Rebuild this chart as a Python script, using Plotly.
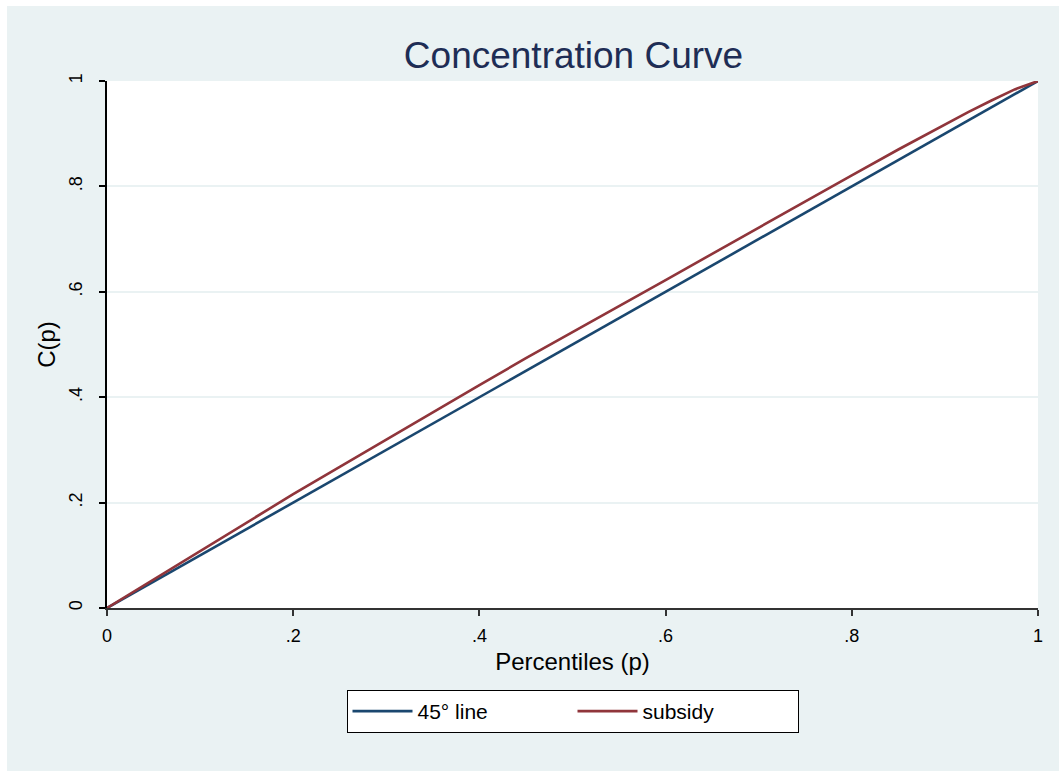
import plotly.graph_objects as go

# ---- data ----
p = [0.0, 0.05, 0.10, 0.15, 0.20, 0.25, 0.30, 0.35, 0.40, 0.45, 0.50,
     0.55, 0.60, 0.65, 0.70, 0.75, 0.80, 0.85, 0.90, 0.925, 0.95, 0.975, 1.0]
line45 = [0.0, 0.05, 0.10, 0.15, 0.20, 0.25, 0.30, 0.35, 0.40, 0.45, 0.50,
          0.55, 0.60, 0.65, 0.70, 0.75, 0.80, 0.85, 0.90, 0.925, 0.95, 0.975, 1.0]
subsidy = [0.0, 0.054, 0.108, 0.162, 0.216, 0.268, 0.320, 0.371, 0.423, 0.474, 0.523,
           0.572, 0.622, 0.672, 0.722, 0.771, 0.821, 0.870, 0.918, 0.941, 0.963, 0.984, 1.0]

tick_vals = [0, 0.2, 0.4, 0.6, 0.8, 1]
tick_text = ["0", ".2", ".4", ".6", ".8", "1"]

W, H = 1059, 771
L, R, T, B = 107, 21, 81, 163
pw, ph = W - L - R, H - T - B

def px_x(px):
    return (px - L) / pw

def px_y(py):
    return (H - B - py) / ph

BG = "#EAF2F3"
FONT = "Liberation Sans, Arial, sans-serif"

fig = go.Figure()
fig.add_trace(go.Scatter(x=p, y=line45, mode="lines", name="45° line",
                         line=dict(color="#1A476F", width=2.6)))
fig.add_trace(go.Scatter(x=p, y=subsidy, mode="lines", name="subsidy",
                         line=dict(color="#90353B", width=2.6)))

fig.update_layout(
    width=W, height=H,
    margin=dict(l=L, r=R, t=T, b=B, pad=0),
    paper_bgcolor=BG,
    plot_bgcolor="white",
    font=dict(family=FONT, color="#000000"),
    title=dict(text="Concentration Curve", x=px_x(573.5), xref="paper", xanchor="center",
               y=1 - 55 / H, yref="container", yanchor="middle",
               font=dict(size=37, color="#1E2D55", family=FONT)),
    showlegend=True,
    legend=dict(orientation="h", x=0.5, xanchor="center", y=px_y(690), yanchor="top",
                bgcolor="white", bordercolor="#000000", borderwidth=1,
                font=dict(size=21, family=FONT), entrywidth=150, entrywidthmode="pixels",
                itemwidth=60),
    shapes=[
        dict(type="rect", xref="paper", yref="paper", x0=px_x(0), x1=px_x(7),
             y0=px_y(H), y1=px_y(0), fillcolor="white", line=dict(width=0), layer="below"),
        dict(type="rect", xref="paper", yref="paper", x0=px_x(0), x1=px_x(W),
             y0=px_y(6), y1=px_y(0), fillcolor="white", line=dict(width=0), layer="below"),
    ],
)

fig.update_xaxes(
    range=[0, 1], tickvals=tick_vals, ticktext=tick_text,
    showgrid=False, zeroline=False,
    showline=True, linecolor="#333333", linewidth=2,
    ticks="outside", ticklen=6, tickwidth=1.5, tickcolor="#333333",
    ticklabelstandoff=4,
    tickfont=dict(size=18, family=FONT, color="#000000"),
    title=dict(text="Percentiles (p)", font=dict(size=24, family=FONT, color="#000000"), standoff=9),
)
fig.update_yaxes(
    range=[0, 1], tickvals=tick_vals, ticktext=tick_text,
    showgrid=True, gridcolor=BG, gridwidth=2, zeroline=False,
    showline=True, linecolor="#000000", linewidth=1.5,
    ticks="outside", ticklen=6, tickwidth=1.5, tickcolor="#000000",
    tickangle=-90, ticklabelstandoff=10,
    tickfont=dict(size=18, family=FONT, color="#000000"),
    title=dict(text="C(p)", font=dict(size=24, family=FONT, color="#000000"), standoff=4),
)

fig.write_html("out.html", config={"displayModeBar": False},
               post_script="document.body.style.margin='0';")
